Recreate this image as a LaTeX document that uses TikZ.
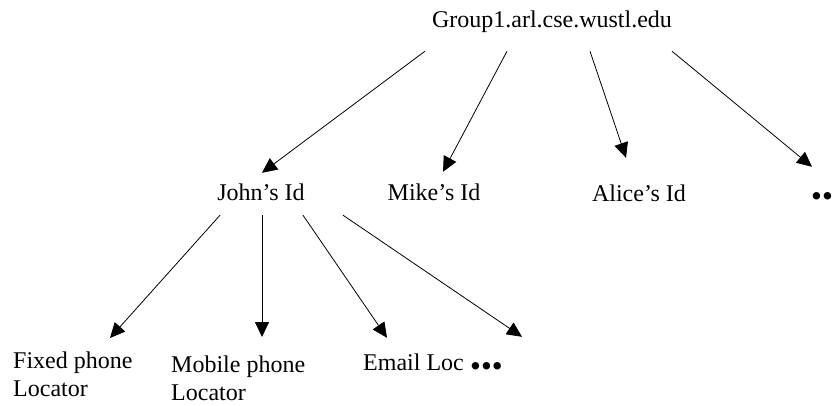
\documentclass[tikz,border=0pt]{standalone}
\usepackage{fontspec}
\setmainfont{Liberation Serif}
\usepackage{tikz}
\usetikzlibrary{arrows.meta, positioning, calc}

\begin{document}
\begin{tikzpicture}[x=1pt, y=-1pt, font=\fontsize{24}{27.5}\selectfont]
    \tikzstyle{entry}=[inner sep=0pt, text height=16pt, text depth=5pt, anchor=base]
    \tikzstyle{multi}=[inner sep=0pt, align=left, anchor=north west]
    \tikzstyle{dots}=[entry, font=\fontsize{31}{31}\selectfont]
    \tikzstyle{link}=[line width=0.8pt, -{Triangle[length=15pt, width=14pt]}]
    \useasboundingbox (0,0) rectangle (835,405);
    % domain
    \node[entry] (group) at (552,27) {Group1.arl.cse.wustl.edu};
    % ids
    \node[entry] (john) at (261,200) {John’s Id};
    \node[entry] (mike) at (434,200) {Mike’s Id};
    \node[entry] (alice) at (639,201) {Alice’s Id};
    \node[dots] (moreids) at (822,206) {\textbullet\textbullet};
    % locators
    \node[multi] (fixed) at (13,352) {Fixed phone\\Locator};
    \node[multi] (mobile) at (171,356) {Mobile phone\\Locator};
    \node[entry, anchor=base west] (email) at (363,370) {Email Loc};
    \node[dots, anchor=base west] (morelocs) at (470,376) {\textbullet\textbullet\textbullet};
    \draw[link] ($(group.south)+(-127,19)$) -- ($(john.north)+(1,-11)$);
    \draw[link] ($(group.south)+(-45,19)$) -- ($(mike.north)+(9,-12)$);
    \draw[link] ($(group.south)+(38,19)$) -- ($(alice.north)+(-13,-27)$);
    \draw[link] ($(group.south)+(120,19)$) -- ($(moreids.north)+(-10,-23)$);
    \draw[link] ($(john.south)+(-41,10)$) -- ($(fixed.north west)+(97,-14)$);
    \draw[link] ($(john.south)+(1,10)$) -- ($(mobile.north west)+(91,-19)$);
    \draw[link] ($(john.south)+(42,10)$) -- ($(email.north west)+(24,-16)$);
    \draw[link] ($(john.south)+(82,10)$) -- ($(morelocs.north west)+(52,-23)$);
  \end{tikzpicture}
\end{document}
